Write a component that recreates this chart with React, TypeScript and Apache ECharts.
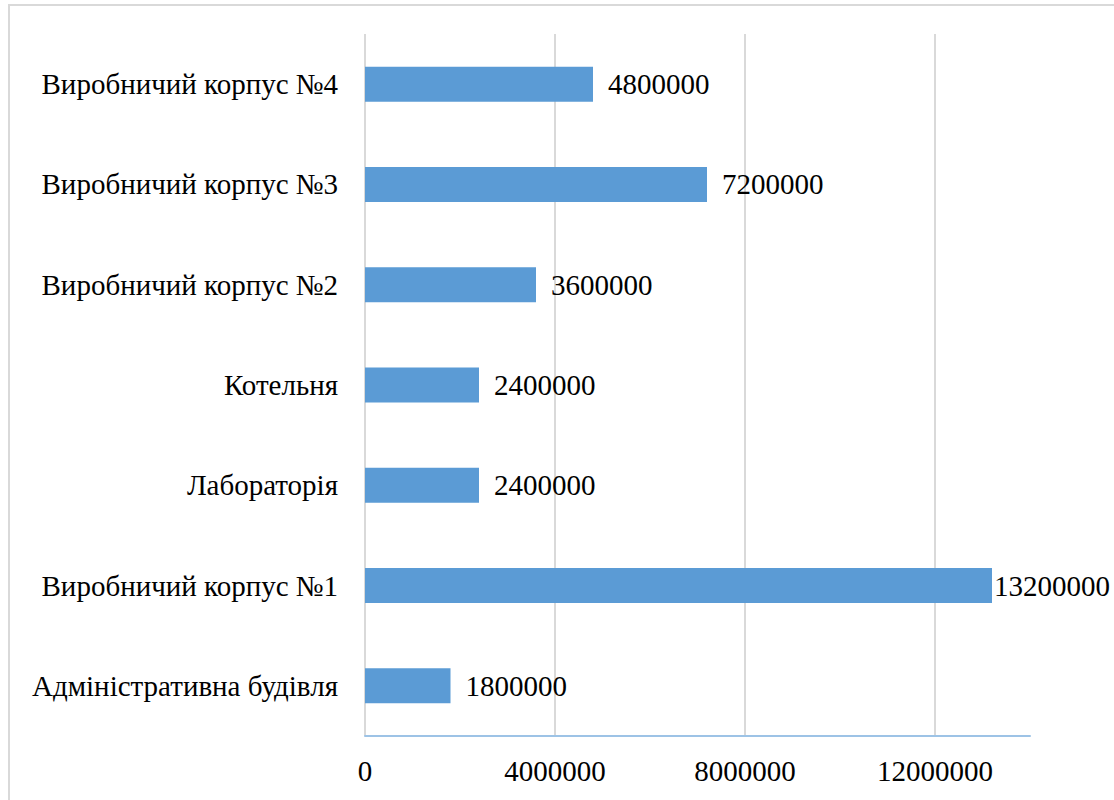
import React, { useEffect, useRef } from "react";
import * as echarts from "echarts";

const categories = [
  "Адміністративна будівля",
  "Виробничий корпус №1",
  "Лабораторія",
  "Котельня",
  "Виробничий корпус №2",
  "Виробничий корпус №3",
  "Виробничий корпус №4",
];
const values = [1800000, 13200000, 2400000, 2400000, 3600000, 7200000, 4800000];
const axisMax = 14000000;
const axisStep = 4000000;

const FONT = "'Liberation Serif', 'Times New Roman', serif";

export default function App() {
  const ref = useRef<HTMLDivElement>(null);

  useEffect(() => {
    if (!ref.current) return;
    const chart = echarts.init(ref.current, undefined, { renderer: "svg" });
    const maxVal = Math.max(...values);
    chart.setOption({
      animation: false,
      backgroundColor: "#ffffff",
      graphic: [
        {
          type: "rect",
          shape: { x: 9, y: 5, width: 1300, height: 1000 },
          style: { fill: "none", stroke: "#d9d9d9", lineWidth: 2 },
          silent: true,
        },
      ],
      grid: { left: 365, right: 84, top: 34, bottom: 64 },
      xAxis: {
        type: "value",
        min: 0,
        max: axisMax,
        interval: axisStep,
        axisLine: { show: true, lineStyle: { color: "#9dc3e6", width: 2 } },
        axisTick: { show: false },
        splitLine: {
          show: true,
          showMaxLine: false,
          lineStyle: { color: "#d9d9d9", width: 2 },
        },
        axisLabel: {
          showMaxLabel: false,
          margin: 20,
          color: "#000",
          fontFamily: FONT,
          fontSize: 29,
          formatter: (v: number) => String(v),
        },
      },
      yAxis: {
        type: "category",
        data: categories,
        axisLine: { show: false },
        axisTick: { show: false },
        splitLine: { show: false },
        axisLabel: {
          margin: 27,
          color: "#000",
          fontFamily: FONT,
          fontSize: 29,
        },
      },
      series: [
        {
          type: "bar",
          barWidth: 35,
          data: values.map((v) => ({
            value: v,
            label: { distance: v === maxVal ? 2 : 15 },
          })),
          itemStyle: { color: "#5b9bd5" },
          label: {
            show: true,
            position: "right",
            color: "#000",
            fontFamily: FONT,
            fontSize: 29,
          },
        },
      ],
    });
    return () => chart.dispose();
  }, []);

  return (
    <div
      ref={ref}
      style={{ position: "fixed", left: 0, top: 0, width: 1114, height: 800 }}
    />
  );
}
